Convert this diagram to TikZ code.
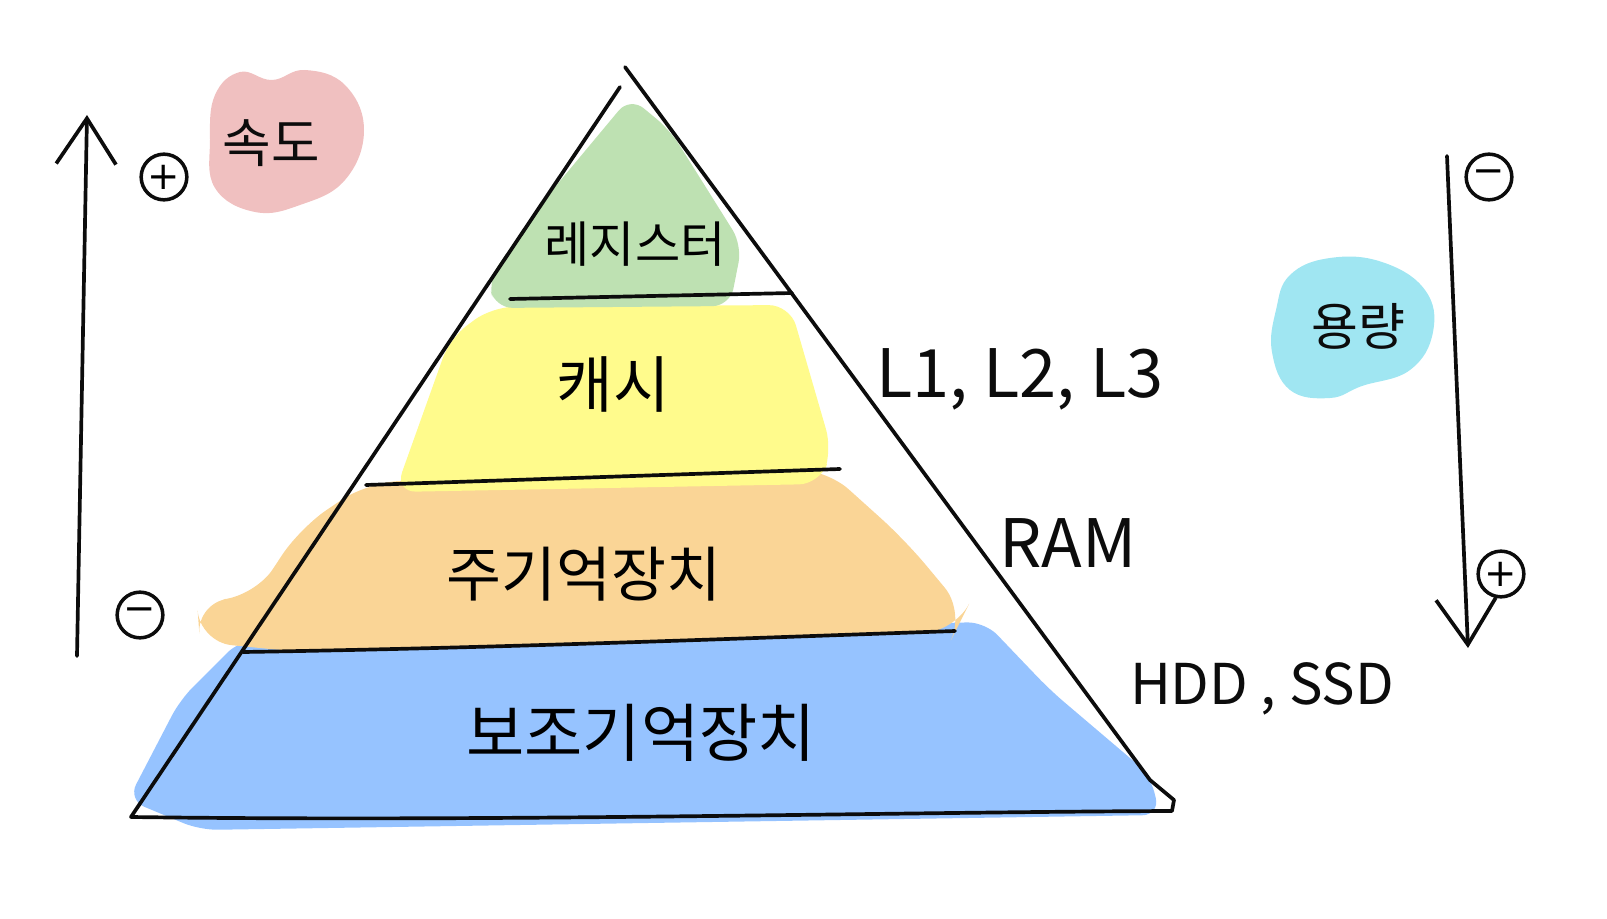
\documentclass[tikz,border=0pt]{standalone}
\usepackage{fontspec}
\newfontfamily\kr{Noto Sans CJK KR}
\newfontfamily\sym{DejaVu Sans}
\definecolor{regfill}{RGB}{190,225,178}
\definecolor{cachefill}{RGB}{255,251,140}
\definecolor{ramfill}{RGB}{250,213,150}
\definecolor{diskfill}{RGB}{150,195,255}
\definecolor{speedfill}{RGB}{240,192,192}
\definecolor{sizefill}{RGB}{160,230,242}
\definecolor{ink}{RGB}{12,12,12}
\usetikzlibrary{arrows.meta,backgrounds}

\begin{document}
\begin{tikzpicture}[x=0.02cm, y=-0.02cm, line cap=round, line join=round,
    pen/.style={ink, line width=2.1pt},
    level/.style={inner sep=0pt, font=\kr\fontsize{#1}{#1}\selectfont},
    note/.style={inner sep=0pt, ink, font=\kr\fontsize{#1}{#1}\selectfont},
    sign/.style={circle, draw=ink, line width=2pt, minimum size=26pt, inner sep=0pt, font=\sym\fontsize{22}{22}\selectfont},
    >={Straight Barb[length=26pt, width=34pt]}]
  \useasboundingbox (0,0) rectangle (1607,919);
  \begin{scope}[on background layer]
    % level fills
    \fill[diskfill, rounded corners=10pt] (240,640) -- (985,622) -- (1050,690) -- (1150,775) -- (1160,815) -- (200,830) -- (128,800) -- (180,700) -- cycle;
    \fill[ramfill, rounded corners=18pt] (368,482) -- (825,468) -- (905,540) -- (965,612) -- (955,632) -- (300,652) -- (200,642) -- (197,602) -- (255,596) -- (300,528) -- cycle;
    \fill[cachefill, rounded corners=12pt] (492,307) -- (790,305) -- (832,450) -- (820,484) -- (395,492) -- (450,338) -- cycle;
    \fill[regfill, rounded corners=10pt] (630,97) -- (670,130) -- (742,245) -- (730,306) -- (495,308) -- (488,280) -- (540,205) -- cycle;
    % label blobs
    \fill[speedfill] plot[smooth cycle, tension=0.7] coordinates {(215,95) (240,72) (272,80) (305,70) (345,85) (364,130) (345,180) (300,205) (255,212) (215,188) (210,140)};
    \fill[sizefill] plot[smooth cycle, tension=0.7] coordinates {(1290,275) (1330,258) (1382,262) (1425,290) (1433,332) (1410,370) (1362,386) (1330,398) (1290,390) (1272,352) (1276,310)};
  \end{scope}

  % pyramid
  \draw[pen] (620,87) -- (131,817) .. controls (500,822) and (900,812) .. (1172,811) -- (1174,800) -- (1150,780) -- (625,67);
  \draw[pen] (510,299) -- (792,293);
  \draw[pen] (366,485) -- (840,469);
  \draw[pen] (243,652) .. controls (500,648) and (750,638) .. (955,631);

  \node[level=28] (reg) at (635,244) {레지스터};
  \node[level=35] (cache) at (613,384) {캐시};
  \node[level=34] (ram) at (584,574) {주기억장치};
  \node[level=36] (disk) at (641,733) {보조기억장치};

  \node[note=38] (cachekind) at (1020,379) {L1, L2, L3};
  \node[note=38] (ramkind) at (1068,543) {RAM};
  \node[note=32] (diskkind) at (1262,689) {HDD , SSD};

  % speed axis
  \coordinate (slow) at (77,656);
  \coordinate (fast) at (87,115);
  \draw[pen, ->] (slow) -- (fast);
  \node[sign] (fastplus) at (164,177) {+};
  \node[sign] (slowminus) at (140,615) {−};
  \node[note=30] (speed) at (271,143) {속도};

  % capacity axis
  \coordinate (small) at (1447,156);
  \coordinate (large) at (1468,648);
  \draw[pen, ->] (small) -- (large);
  \node[sign] (smallminus) at (1489,177) {−};
  \node[sign] (largeplus) at (1501,574) {+};
  \node[note=29] (size) at (1358,326) {용량};
\end{tikzpicture}
\end{document}
